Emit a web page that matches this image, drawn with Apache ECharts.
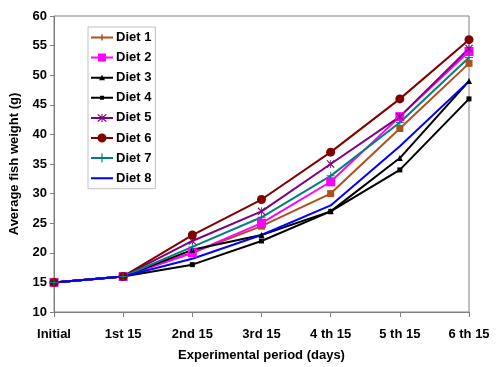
<!DOCTYPE html>
<html>
<head>
<meta charset="utf-8">
<script src="https://cdn.jsdelivr.net/npm/echarts@6/dist/echarts.min.js"></script>
<style>
  html, body { margin: 0; padding: 0; background: #fff; }
  #chart { width: 500px; height: 367px; }
</style>
</head>
<body>
<div id="chart"></div>
<script>
const periods = ['Initial', '1st 15', '2nd 15', '3rd 15', '4 th 15', '5 th 15', '6 th 15'];
const yTicks = [10, 60, 5];

const diet1 = [15, 16, 20, 24.5, 30, 41, 52];
const diet2 = [15, 16, 20, 25, 32, 43, 54];
const diet3 = [15, 16, 20.5, 23, 27, 36, 49];
const diet4 = [15, 16, 18, 22, 27, 34, 46];
const diet5 = [15, 16, 22, 27, 35, 43, 54.5];
const diet6 = [15, 16, 23, 29, 37, 46, 56];
const diet7 = [15, 16, 21, 26, 33, 42, 53];
const diet8 = [15, 16, 19, 23, 28, 38, 49];

// plot markers
const plusPath = 'path://M4.4,0h1.2v4.4h4.4v1.2h-4.4v4.4h-1.2v-4.4h-4.4v-1.2h4.4z';
const dashPath = 'path://M4.4,0h1.2v10h-1.2z';
const starPath = 'path://M1,0L5,4L9,0L10,1L6,5L10,9L9,10L5,6L1,10L0,9L4,5L0,1z M4.5,0h1v10h-1z';

// legend icons drawn in a 22x12 box (corner dots keep the box size)
const box = 'M0,0L0.01,0L0,0.01z M22,12L21.99,12L22,11.99z ';
const bar = 'M0,5h22v2h-22z ';
const legendIcons = [
  'path://' + box + bar + 'M10.2,3h1.6v6h-1.6z',
  'path://' + box + bar + 'M7,2h8v8h-8z',
  'path://' + box + bar + 'M8,8.5L11,3L14,8.5z',
  'path://' + box + bar + 'M9,4h4v4h-4z',
  'path://' + box + bar + 'M7,2L11,5.2L15,2L15.8,2.8L11.8,6L15.8,9.2L15,10L11,6.8L7,10L6.2,9.2L10.2,6L6.2,2.8z M10.5,2h1v8h-1z',
  'path://' + box + bar + 'M15.5,6A4.5,4.5 0 1 1 6.5,6A4.5,4.5 0 1 1 15.5,6z',
  'path://' + box + bar + 'M10.4,1.5h1.2v9h-1.2z',
  'path://' + box + bar
];

function line(name, data, color, symbol, size) {
  return {
    name: name,
    type: 'line',
    data: data,
    symbol: symbol,
    symbolSize: size,
    showSymbol: symbol !== 'none',
    lineStyle: { color: color, width: 2 },
    itemStyle: { color: color },
    emphasis: { disabled: true },
    animation: false
  };
}

const series = [
  line('Diet 1', diet1, '#B0501E', dashPath, 7),
  line('Diet 2', diet2, '#FF00FF', 'rect', 9),
  line('Diet 3', diet3, '#000000', 'triangle', 6),
  line('Diet 4', diet4, '#000000', 'rect', 5),
  line('Diet 5', diet5, '#800080', starPath, 8),
  line('Diet 6', diet6, '#800000', 'circle', 9),
  line('Diet 7', diet7, '#008080', plusPath, 8),
  line('Diet 8', diet8, '#0000FF', 'none', 0)
];

const chart = echarts.init(document.getElementById('chart'));
chart.setOption({
  backgroundColor: '#fff',
  textStyle: { fontFamily: 'Liberation Sans, Arial, sans-serif' },
  grid: {
    left: 54, right: 31, top: 16, bottom: 55,
    outerBoundsMode: 'none',
    show: true, borderColor: '#808080', borderWidth: 1
  },
  legend: {
    orient: 'vertical',
    left: 88, top: 27,
    padding: [4, 4, 4, 3],
    borderColor: '#c0c0c0', borderWidth: 1,
    backgroundColor: '#fff',
    itemWidth: 22, itemHeight: 12, itemGap: 7.1,
    textStyle: { fontSize: 13, fontWeight: 'bold', color: '#000', padding: [0, 0, 0, -2] },
    data: series.map((s, i) => ({ name: s.name, icon: legendIcons[i] }))
  },
  xAxis: {
    type: 'category',
    data: periods,
    boundaryGap: false,
    name: 'Experimental period (days)',
    nameLocation: 'middle',
    nameGap: 37,
    nameTextStyle: { fontSize: 13, fontWeight: 'bold', color: '#000' },
    axisLine: { lineStyle: { color: '#808080' } },
    axisTick: { length: 5, lineStyle: { color: '#808080' } },
    axisLabel: { fontSize: 13, fontWeight: 'bold', color: '#000', margin: 16, interval: 0 },
    splitLine: { show: false }
  },
  yAxis: {
    type: 'value',
    min: yTicks[0], max: yTicks[1], interval: yTicks[2],
    name: 'Average fish weight (g)',
    nameLocation: 'middle',
    nameGap: 33,
    nameTextStyle: { fontSize: 13, fontWeight: 'bold', color: '#000' },
    axisLine: { show: true, lineStyle: { color: '#808080' } },
    axisTick: { show: true, length: 4, lineStyle: { color: '#808080' } },
    axisLabel: { fontSize: 13, fontWeight: 'bold', color: '#000', margin: 7 },
    splitLine: { show: false }
  },
  series: series
});
</script>
</body>
</html>
